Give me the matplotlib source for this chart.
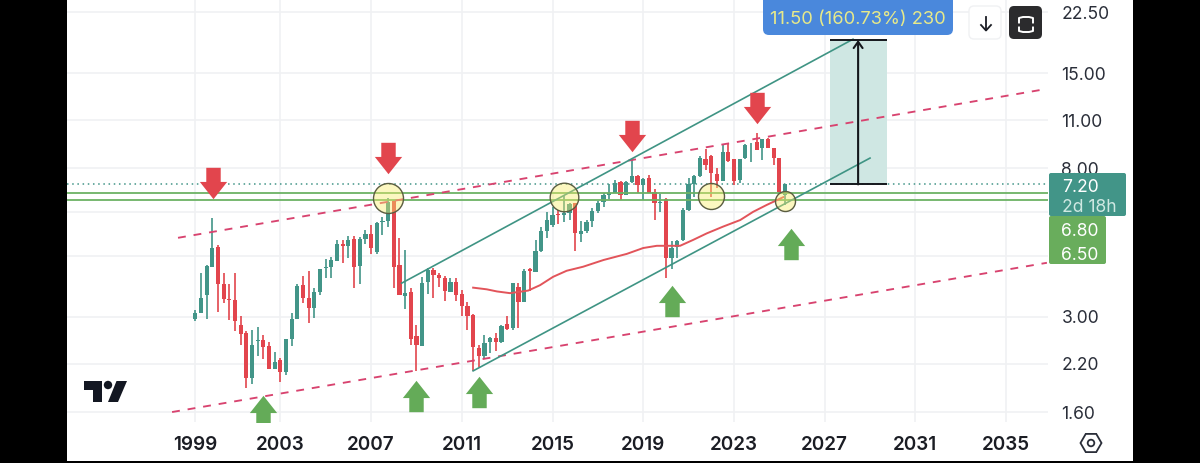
import math
import matplotlib
matplotlib.use("Agg")
import matplotlib.pyplot as plt
from matplotlib.patches import Rectangle, FancyBboxPatch, Circle, Polygon, RegularPolygon
from matplotlib.path import Path
from matplotlib.markers import MarkerStyle
from matplotlib.transforms import IdentityTransform

plt.rcParams['font.family'] = ['Inter', 'DejaVu Sans']

# quarterly candles, first to last
opens = [2.96,3.07,3.46,4.18,4.76,3.72,3.38,3.36,2.84,2.69,2.00,2.56,2.58,2.47,2.13,2.26,2.08,2.59,2.96,3.70,
         3.41,3.19,3.53,4.14,4.17,4.34,4.86,4.80,5.01,4.20,5.02,5.19,4.61,5.61,5.65,6.45,4.22,3.45,3.53,2.65,
         2.48,3.77,4.09,3.97,3.89,3.54,3.78,3.49,3.23,3.04,2.44,2.32,2.54,2.61,2.54,2.87,2.78,3.66,3.32,4.13,
         4.03,4.65,5.30,5.51,5.92,5.89,5.95,6.36,5.19,5.29,5.66,6.05,6.41,6.70,6.82,7.33,6.73,7.32,7.63,7.18,
         7.50,6.86,6.38,6.54,4.44,4.75,4.99,6.08,7.23,7.62,8.52,8.69,7.72,7.38,8.94,8.54,7.41,8.57,9.46,9.51,
         9.16,9.69,9.19,8.57,6.72]
highs = [3.15,4.00,4.23,5.76,4.82,4.00,3.74,4.00,3.01,2.73,2.76,2.80,2.66,2.55,2.38,2.28,2.59,3.07,3.72,3.94,
         4.06,3.62,4.11,4.39,4.45,4.99,4.99,5.12,5.12,5.08,5.33,5.51,5.63,5.80,6.60,6.50,5.05,4.67,3.64,2.84,
         3.91,4.14,4.14,4.02,3.93,3.87,3.87,3.58,3.32,3.06,2.50,2.66,2.63,2.69,2.84,3.01,3.76,3.76,4.11,4.15,
         4.99,5.42,6.01,6.21,6.08,6.67,6.36,6.36,5.65,5.69,6.15,6.47,6.79,7.23,7.41,7.37,7.37,8.46,7.67,7.50,
         7.67,6.97,6.76,6.57,4.96,4.99,6.15,7.50,7.67,8.69,9.08,8.75,8.01,9.36,9.46,8.54,8.54,9.38,9.49,10.09,
         9.71,9.76,9.19,8.60,7.23]
lows = [2.92,3.07,2.96,4.18,3.10,3.28,2.94,2.74,2.50,1.87,1.93,2.31,2.27,2.12,2.12,1.95,2.04,2.48,2.96,3.28,
        2.89,2.98,3.47,3.87,3.88,4.34,4.28,4.42,3.64,3.73,4.85,4.55,4.55,5.16,5.45,3.62,3.47,3.16,2.49,2.10,
        2.48,3.49,3.39,3.66,3.33,3.54,3.34,3.01,2.75,2.10,2.16,2.28,2.36,2.40,2.53,2.75,2.75,2.78,3.32,3.56,
        4.03,4.62,5.05,5.45,5.54,5.61,5.69,4.65,4.93,5.21,5.42,5.97,6.19,6.53,6.79,6.50,6.70,7.28,6.79,6.50,
        6.79,5.69,6.01,3.88,4.11,4.44,4.97,6.05,6.64,7.58,7.92,6.62,7.02,7.35,8.37,7.18,7.25,8.50,8.37,9.04,
        8.46,9.16,8.19,6.79,6.29]
closes = [3.08,3.39,4.20,4.72,3.73,3.38,3.36,2.92,2.68,2.00,2.50,2.58,2.46,2.13,2.22,2.08,2.59,2.95,3.69,3.41,
          3.18,3.53,4.11,4.17,4.38,4.85,4.78,4.99,4.17,5.01,5.18,4.72,5.59,5.67,6.42,4.18,3.47,3.52,2.60,2.50,
          3.75,4.09,3.96,3.87,3.56,3.77,3.47,3.23,3.02,2.46,2.31,2.53,2.61,2.55,2.83,2.77,3.75,3.31,4.07,4.07,
          4.65,5.30,5.69,5.88,5.87,5.95,6.32,5.23,5.28,5.63,6.05,6.38,6.70,6.79,7.25,6.72,7.32,7.63,7.18,7.45,
          6.82,6.36,6.42,4.44,4.73,4.95,6.08,7.23,7.62,8.56,8.19,7.75,7.38,8.94,8.42,7.38,8.54,9.32,9.49,9.04,
          9.69,9.19,8.56,6.84,7.20]

# moving average (red curve): candle position, value
ma_pos = [49.0,51.4,53.2,55.5,58.7,60.8,63.1,65.5,68.4,72.0,76.1,79.0,81.4,83.1,85.5,87.8,90.2,93.1,96.1,98.4,100.8,103.7]
ma_val = [3.64,3.60,3.55,3.51,3.57,3.70,3.91,4.07,4.18,4.37,4.55,4.73,4.80,4.80,4.80,4.99,5.21,5.45,5.69,6.01,6.29,6.62]

year_ticks = [0,15,31,47,63,79,95,111,127,143]
year_labels = ['1999','2003','2007','2011','2015','2019','2023','2027','2031','2035']
price_ticks = [22.5,15,11,8,6,4.5,3,2.2,1.6]
price_labels = ['22.50','15.00','11.00','8.00','','','3.00','2.20','1.60']

last_price = 7.20
support_levels = [6.80,6.50]
target_price = 18.70

# drawn trend lines: (pos0, pos1), (price0, price1)
wedge_top = ((-3.05,150.2),(5.06,13.54))
wedge_bottom = ((-4.1,150.2),(1.60,4.29))
channel_top = ((36.4,116.0),(3.75,18.8))
channel_bottom = ((49.0,119.0),(2.10,8.57))
circles = [(34,6.58,15),(65,6.63,14.3),(91,6.66,13),(104,6.46,10)]
down_arrows = [(3.1,7.25),(34,8.60),(77,9.89),(99.1,11.93)]
up_arrows = [(12,1.61),(39,1.775),(50,1.83),(84,3.34),(105,4.87)]

W, H = 1200, 463
GREEN, RED = '#429588', '#e2454d'
fig = plt.figure(figsize=(W/100, H/100), dpi=100, facecolor='black')
PX = IdentityTransform()
def Y(p):
    return H - p

fig.add_artist(Rectangle((67, Y(460.5)), 1066, 460.5, transform=PX, fc='white', ec='none', zorder=-2))

ax = fig.add_axes([67/W, (H-422)/H, (1048-67)/W, 422/H], facecolor='white')
ax.set_yscale('log')
ax.set_xlim(-22.63, 150.39)
ax.set_ylim(1.498, 24.36)
for s in ax.spines.values():
    s.set_visible(False)
ax.grid(True, color='#f0f1f3', lw=1.2)
ax.set_axisbelow(True)
ax.set_xticks(year_ticks, year_labels)
ax.set_yticks(price_ticks, price_labels)
ax.minorticks_off()
ax.yaxis.tick_right()
ax.tick_params(axis='both', length=0)
ax.tick_params(axis='y', pad=9.7, labelsize=12.6, labelcolor='#2a2e39')
ax.tick_params(axis='x', pad=10, labelsize=13.6, labelcolor='#1b1d24')
for t in ax.get_xticklabels():
    t.set_fontweight('semibold')

n = range(len(opens))
colors = [GREEN if closes[i] >= opens[i] else RED for i in n]
ax.vlines(list(n), lows, highs, colors=colors, lw=1.2, zorder=3)
ax.bar(list(n), [abs(closes[i]-opens[i]) for i in n], bottom=[min(opens[i], closes[i]) for i in n],
       width=0.74, color=colors, lw=0, zorder=3)

ax.plot(ma_pos, ma_val, color='#e2545a', lw=1.4, zorder=4)

ax.axhline(last_price, color=GREEN, lw=1.1, ls=(0, (1, 2.4)), zorder=2)
for lv in support_levels:
    ax.axhline(lv, color='#6cb264', lw=1.3, zorder=3)

for seg in (wedge_top, wedge_bottom):
    ax.plot(seg[0], seg[1], color='#d8436f', lw=1.35, ls=(0, (4.2, 4.2)), zorder=4)
for seg in (channel_top, channel_bottom):
    ax.plot(seg[0], seg[1], color='#3f9484', lw=1.2, zorder=4)

# projected move box
ax.add_patch(Rectangle((111.9, last_price), 10.1, target_price-last_price, fc='#cfe7e3', ec='none', zorder=1.5))
ax.hlines([last_price, target_price], 111.9, 122.0, color='#14171c', lw=1.4, zorder=5)
ax.annotate('', xy=(116.9, target_price), xytext=(116.9, last_price),
            arrowprops=dict(arrowstyle='->,head_width=0.32,head_length=0.45', color='#14171c', lw=1.5,
                            shrinkA=0, shrinkB=0), zorder=5)

# highlight circles
for x, p, r in circles:
    ax.scatter([x], [p], s=(2*r*0.72)**2, facecolor=(0.98, 0.93, 0.42, 0.42),
               edgecolor='#5a5c40', lw=1.0, zorder=6)

# block arrows
head, neck, sh = 0.87, 0.46, 0.1
down = Path([(-neck,1),(neck,1),(neck,sh),(head,sh),(0,-1),(-head,sh),(-neck,sh),(-neck,1)], closed=True)
up = Path([(-neck,-1),(neck,-1),(neck,-sh),(head,-sh),(0,1),(-head,-sh),(-neck,-sh),(-neck,-1)], closed=True)
for x, p in down_arrows:
    ax.plot([x], [p], marker=MarkerStyle(down), ms=22.6, color='#e2454d', mew=0, ls='none', zorder=7)
for x, p in up_arrows:
    ax.plot([x], [p], marker=MarkerStyle(up), ms=22.6, color='#64ab58', mew=0, ls='none', zorder=7)

# overlay widgets (price badges, buttons, logo)
def rbox(x0, y0, x1, y1, fc, ec='none', r=4, z=5, lw=1):
    fig.add_artist(FancyBboxPatch((x0+r, Y(y1)+r), x1-x0-2*r, y1-y0-2*r,
                                  boxstyle=f'round,pad={r},rounding_size={r}',
                                  transform=PX, fc=fc, ec=ec, lw=lw, zorder=z))
def label(x, y, s, color, size=12.6, ha='left', weight='normal', z=6):
    fig.text(x, Y(y), s, transform=PX, color=color, fontsize=size, ha=ha, va='center_baseline',
             fontweight=weight, zorder=z)

rbox(1049, 173, 1126, 216, GREEN, r=2)
rbox(1049, 216, 1106, 264, '#69ad5c', r=2, z=5.5)
label(1062, 185, '7.20', 'white')
label(1062, 205, '2d 18h', '#cfe8e2', size=12.6)
label(1061, 229, '6.80', 'white')
label(1061, 253, '6.50', 'white')

rbox(763, -6, 953, 35, '#4a88dc', r=6)
label(858, 18, '11.50 (160.73%) 230', '#e7e98a', size=13.2, ha='center')

rbox(969, 6, 1001, 39, 'white', ec='#f0f1f3', r=5)
fig.add_artist(plt.Line2D([986, 986], [Y(17), Y(30)], transform=PX, color='#1b1d24', lw=1.3, zorder=6))
fig.add_artist(plt.Line2D([981, 986, 991], [Y(25), Y(30.5), Y(25)], transform=PX, color='#1b1d24', lw=1.3, zorder=6))

rbox(1009, 6, 1042, 39, '#2b2b2d', r=5)
for yy0, yy1, yy2 in ((22.5, 17, 17), (27.5, 32, 32)):
    fig.add_artist(plt.Line2D([1019, 1019, 1023, 1029, 1033, 1033], [Y(yy0), Y(yy1+(1 if yy1 < 20 else -1)), Y(yy1), Y(yy2), Y(yy1+(1 if yy1 < 20 else -1)), Y(yy0)],
                              transform=PX, color='white', lw=1.4, zorder=6))

# settings hexagon
fig.add_artist(RegularPolygon((1091, Y(443)), 6, radius=10.5, orientation=math.pi/6, transform=PX,
                              fc='white', ec='#2a2e39', lw=1.3, zorder=6))
fig.add_artist(Circle((1091, Y(443)), 3.3, transform=PX, fc='white', ec='#2a2e39', lw=1.3, zorder=7))

# logo
fig.add_artist(Polygon([(84, Y(381)), (102, Y(381)), (102, Y(402)), (93, Y(402)), (93, Y(390)), (84, Y(390))],
                       transform=PX, fc='#131722', ec='none', zorder=6))
fig.add_artist(Circle((108, Y(385)), 4.2, transform=PX, fc='#131722', ec='none', zorder=6))
fig.add_artist(Polygon([(116.5, Y(381)), (127, Y(381)), (118, Y(402)), (108, Y(402))],
                       transform=PX, fc='#131722', ec='none', zorder=6))

fig.savefig('out.png', dpi=100, facecolor='black')
